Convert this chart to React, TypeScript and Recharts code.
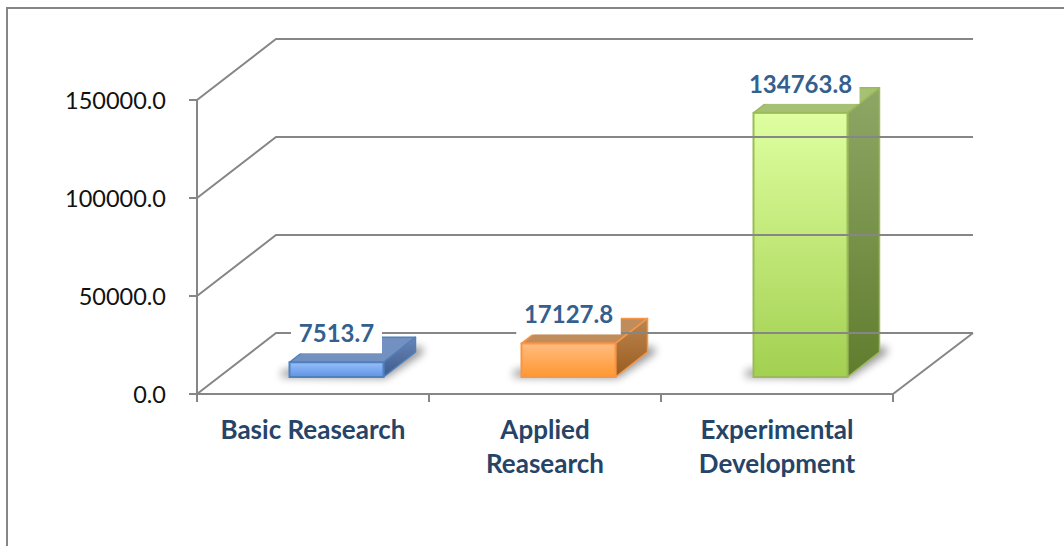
import React from "react";
import { BarChart, Bar, XAxis, YAxis, LabelList } from "recharts";

const categories = ["Basic Reasearch", "Applied Reasearch", "Experimental Development"];
const values = [7513.7, 17127.8, 134763.8];
const yTicks = [0, 50000, 100000, 150000];

const frontTop = ["#98bffc", "#ffbc80", "#dfffa0"];
const frontBottom = ["#5f94e2", "#ff9730", "#a2d050"];
const edge = ["#4f81bd", "#f79646", "#9bbb59"];
const topFace = ["#7291c1", "#c18c5b", "#a6c074"];
const sideTop = ["#6a86b6", "#bb8650", "#8fa766"];
const sideBottom = ["#3c5a8c", "#9a5c20", "#607d2e"];

const rows = categories.map((name, i) => ({ name, value: values[i] }));

const W = 1064;
const H = 546;
const LEFT = 197;
const FLOOR = 394;
const TOP = 100;
const RIGHT = 893;
const DEPTH_X = 80;
const DEPTH_Y = 61;
const BAR_SHIFT_X = 23.5;
const BAR_SHIFT_Y = 17;
const BAR_DEPTH_X = 32;
const BAR_DEPTH_Y = 25;
const BAR_SIZE = 94;
const GRID = "#868686";
const TICK_SIZE = 8;
const TICK_MARGIN = 23;
const BAND = (RIGHT - LEFT) / categories.length;
const FONT = "Lato, Carlito, sans-serif";

function YTick({ x, y, payload }: any) {
  const ax = x + TICK_SIZE + TICK_MARGIN;
  return (
    <g>
      <polyline
        points={`${ax},${y} ${ax + DEPTH_X - 1},${y - DEPTH_Y} ${RIGHT + DEPTH_X},${y - DEPTH_Y}`}
        fill="none"
        stroke={GRID}
        strokeWidth={2}
      />
      <text x={x} y={y + 9} textAnchor="end" fontFamily={FONT} fontSize={23.5} fill="#111">
        {Number(payload.value).toFixed(1)}
      </text>
    </g>
  );
}

function XTick({ x, payload, index }: any) {
  const name: string = payload.value;
  const lines = name.length > 15 ? name.split(" ") : [name];
  const top = FLOOR;
  const isLast = index === categories.length - 1;
  return (
    <g>
      <line x1={x - BAND / 2} x2={x - BAND / 2} y1={top} y2={top + 8} stroke={GRID} strokeWidth={2} />
      {isLast && (
        <>
          <line x1={x + BAND / 2} x2={x + BAND / 2} y1={top} y2={top + 8} stroke={GRID} strokeWidth={2} />
          <line
            x1={x + BAND / 2}
            y1={top}
            x2={x + BAND / 2 + DEPTH_X}
            y2={top - DEPTH_Y}
            stroke={GRID}
            strokeWidth={2}
          />
        </>
      )}
      {lines.map((l, i) => (
        <text
          key={l}
          x={x}
          y={top + 45 + i * 34}
          textAnchor="middle"
          fontFamily={FONT}
          fontWeight={700}
          fontSize={26}
          fill="#264468"
        >
          {l}
        </text>
      ))}
    </g>
  );
}

function Bar3D({ x, y, width, height, index }: any) {
  const fx = x + BAR_SHIFT_X;
  const fy = y - BAR_SHIFT_Y;
  const r = fx + width;
  const b = fy + height;
  const dx = BAR_DEPTH_X;
  const dy = BAR_DEPTH_Y;
  return (
    <g>
      <defs>
        <linearGradient id={`front${index}`} x1="0" y1="0" x2="0" y2="1">
          <stop offset="0" stopColor={frontTop[index]} />
          <stop offset="1" stopColor={frontBottom[index]} />
        </linearGradient>
        <linearGradient id={`side${index}`} x1="0" y1="0" x2="0" y2="1">
          <stop offset="0" stopColor={sideTop[index]} />
          <stop offset="1" stopColor={sideBottom[index]} />
        </linearGradient>
        <filter id={`blur${index}`} x="-30%" y="-60%" width="160%" height="220%">
          <feGaussianBlur stdDeviation="4" />
        </filter>
      </defs>
      <polygon
        points={`${fx - 8},${b} ${r + 2},${b + 1} ${r + dx + 8},${b - dy + 1} ${r + dx + 6},${b - dy - 6} ${fx - 8},${b - 6}`}
        fill="#000"
        opacity={0.42}
        filter={`url(#blur${index})`}
      />
      <polygon
        points={`${fx},${fy} ${fx + dx},${fy - dy} ${r + dx},${fy - dy} ${r},${fy}`}
        fill={topFace[index]}
        stroke={edge[index]}
        strokeWidth={1.5}
        strokeLinejoin="round"
      />
      <polygon
        points={`${r},${fy} ${r + dx},${fy - dy} ${r + dx},${b - dy} ${r},${b}`}
        fill={`url(#side${index})`}
        stroke={edge[index]}
        strokeWidth={1.5}
        strokeLinejoin="round"
      />
      <rect
        x={fx}
        y={fy}
        width={width}
        height={height}
        fill={`url(#front${index})`}
        stroke={edge[index]}
        strokeWidth={2}
      />
    </g>
  );
}

function BarLabel({ x, y, width, value }: any) {
  const text = Number(value).toFixed(1);
  const cx = x + BAR_SHIFT_X + width / 2;
  const cy = y - BAR_SHIFT_Y - 28;
  const w = 13.5 * text.length + 10;
  return (
    <g>
      <rect x={cx - w / 2} y={cy - 17} width={w} height={36} fill="#fff" />
      <text x={cx} y={cy + 8} textAnchor="middle" fontFamily={FONT} fontWeight={700} fontSize={24} fill="#33608f">
        {text}
      </text>
    </g>
  );
}

export default function App() {
  return (
    <div style={{ position: "absolute", left: 0, top: 0, width: W, height: H, background: "#fff", overflow: "hidden" }}>
      <div style={{ position: "absolute", left: 6, top: 7, width: W - 6, height: 2, background: GRID }} />
      <div style={{ position: "absolute", left: 6, top: 7, width: 2, height: H - 7, background: GRID }} />
      <div style={{ position: "absolute", left: 0, top: 0, width: W, height: H }}>
        <BarChart
          width={W}
          height={H}
          data={rows}
          margin={{ top: TOP, right: W - RIGHT, bottom: 0, left: 0 }}
          barSize={BAR_SIZE}
        >
          <YAxis
            width={LEFT}
            domain={[0, 150000]}
            ticks={yTicks}
            tick={<YTick />}
            tickSize={TICK_SIZE}
            tickMargin={TICK_MARGIN}
            axisLine={{ stroke: GRID, strokeWidth: 2 }}
            tickLine={{ stroke: GRID, strokeWidth: 2 }}
            interval={0}
          />
          <XAxis
            dataKey="name"
            height={H - FLOOR}
            tick={<XTick />}
            tickLine={false}
            axisLine={{ stroke: GRID, strokeWidth: 2 }}
            interval={0}
          />
          <Bar dataKey="value" shape={<Bar3D />} isAnimationActive={false}>
            <LabelList dataKey="value" content={<BarLabel />} />
          </Bar>
        </BarChart>
      </div>
    </div>
  );
}
